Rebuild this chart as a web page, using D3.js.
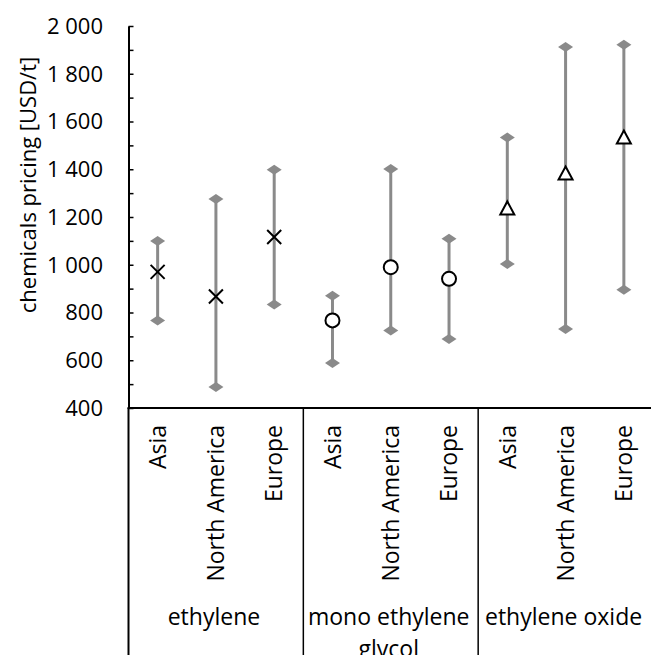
<!DOCTYPE html>
<html lang="en">
<head>
    <meta charset="UTF-8">
    <title>Chemicals pricing</title>
    <script src="https://cdnjs.cloudflare.com/ajax/libs/d3/7.8.5/d3.min.js"></script>
    <style>
        body { margin: 0; background: #fff; }
        svg { display: block; font-family: "Open Sans", sans-serif; }
    </style>
</head>
<body>
    <svg id="chart" width="651" height="655"></svg>

    <script>
        // chart data
        const products = ['ethylene', 'mono ethylene glycol', 'ethylene oxide'];
        const productLines = [['ethylene'], ['mono ethylene', 'glycol'], ['ethylene oxide']];
        const regions = ['Asia', 'North America', 'Europe'];
        const markers = ['cross', 'circle', 'triangle'];

        const maxPrice = [[1100, 1275, 1398], [870, 1401, 1109], [1533, 1912, 1921]];
        const midPrice = [[970, 867, 1116], [767, 990, 941], [1238, 1384, 1535]];
        const minPrice = [[767, 488, 833], [588, 725, 689], [1003, 731, 895]];

        const yTicks = d3.range(400, 2001, 200);
        const yMinorTicks = d3.range(400, 2001, 100);

        const W = 651, H = 655;
        // the plot runs a little past the right edge of the picture
        const plotLeft = 128.5, plotRight = 653, plotTop = 26, plotBottom = 408;
        const barColor = '#8a8a8a';

        const svg = d3.select('#chart');

        // flatten groups x regions into nine slots
        const rows = [];
        products.forEach((p, i) => {
            regions.forEach((r, j) => {
                rows.push({ product: i, region: r, slot: i * 3 + j,
                    max: maxPrice[i][j], mid: midPrice[i][j], min: minPrice[i][j] });
            });
        });

        const x = d3.scaleBand().domain(d3.range(9)).range([plotLeft, plotRight]);
        const y = d3.scaleLinear().domain([400, 2000]).range([plotBottom, plotTop]);
        const cx = d => x(d.slot) + x.bandwidth() / 2;

        const fmt = d3.formatLocale({ decimal: ',', thousands: ' ', grouping: [3], currency: ['', ''] }).format(',d');

        // y axis
        const yAxis = svg.append('g').attr('transform', `translate(${plotLeft},0)`)
            .call(d3.axisLeft(y).tickValues(yMinorTicks).tickSizeInner(-5).tickSizeOuter(0).tickFormat(''));
        yAxis.select('.domain').attr('stroke', '#000').attr('stroke-width', 2);
        yAxis.selectAll('.tick line').attr('stroke', '#000').attr('stroke-width', 1.5);

        svg.append('g').selectAll('text').data(yTicks).join('text')
            .attr('x', 103).attr('y', d => y(d)).attr('dy', '0.36em')
            .attr('text-anchor', 'end').attr('font-size', 22).attr('fill', '#000')
            .text(fmt);

        svg.append('text')
            .attr('transform', 'translate(28,185) rotate(-90)')
            .attr('dy', '0.36em').attr('text-anchor', 'middle')
            .attr('font-size', 22).attr('fill', '#000')
            .text('chemicals pricing [USD/t]');

        // x axis line and group separators
        svg.append('line').attr('x1', plotLeft - 1).attr('x2', plotRight)
            .attr('y1', plotBottom).attr('y2', plotBottom)
            .attr('stroke', '#000').attr('stroke-width', 2);

        const seps = d3.range(3).map(i => x(i * 3));
        svg.append('g').selectAll('line').data(seps).join('line')
            .attr('x1', d => d).attr('x2', d => d)
            .attr('y1', plotBottom).attr('y2', H)
            .attr('stroke', '#000').attr('stroke-width', (d, i) => i === 0 ? 2 : 1.5);

        // region labels
        svg.append('g').selectAll('text').data(rows).join('text')
            .attr('transform', d => `translate(${cx(d)},425) rotate(-90)`)
            .attr('dy', '0.36em').attr('text-anchor', 'end')
            .attr('font-size', 23).attr('fill', '#000')
            .text(d => d.region);

        // product labels
        const groupLabels = svg.append('g').selectAll('text').data(productLines).join('text')
            .attr('x', (d, i) => (x(i * 3) + (i < 2 ? x(i * 3 + 3) : plotRight)) / 2 - 2)
            .attr('y', 617).attr('text-anchor', 'middle')
            .attr('font-size', 23).attr('fill', '#000');
        groupLabels.selectAll('tspan').data(d => d).join('tspan')
            .attr('x', function () { return this.parentNode.getAttribute('x'); })
            .attr('dy', (d, i) => i === 0 ? '0.36em' : 32)
            .text(d => d);

        // high-low bars
        const plot = svg.append('g');
        plot.selectAll('line.range').data(rows).join('line')
            .attr('class', 'range')
            .attr('x1', cx).attr('x2', cx)
            .attr('y1', d => y(d.max)).attr('y2', d => y(d.min))
            .attr('stroke', barColor).attr('stroke-width', 3);

        const diamond = 'M-7.5,0L0,-5L7.5,0L0,5Z';
        const ends = rows.flatMap(d => [{ d, v: d.max }, { d, v: d.min }]);
        plot.selectAll('path.end').data(ends).join('path')
            .attr('class', 'end')
            .attr('transform', e => `translate(${cx(e.d)},${y(e.v)})`)
            .attr('d', diamond).attr('fill', barColor);

        // mid markers
        const shapes = {
            cross: 'M-7,-7L7,7M-7,7L7,-7',
            circle: d3.symbol(d3.symbolCircle, 154)(),
            triangle: 'M0,-6.5L7,6.5L-7,6.5Z'
        };
        plot.selectAll('path.mid').data(rows).join('path')
            .attr('class', 'mid')
            .attr('transform', d => `translate(${cx(d)},${y(d.mid)})`)
            .attr('d', d => shapes[markers[d.product]])
            .attr('fill', d => markers[d.product] === 'cross' ? 'none' : '#fff')
            .attr('stroke', '#000').attr('stroke-width', 2);
    </script>
</body>
</html>
